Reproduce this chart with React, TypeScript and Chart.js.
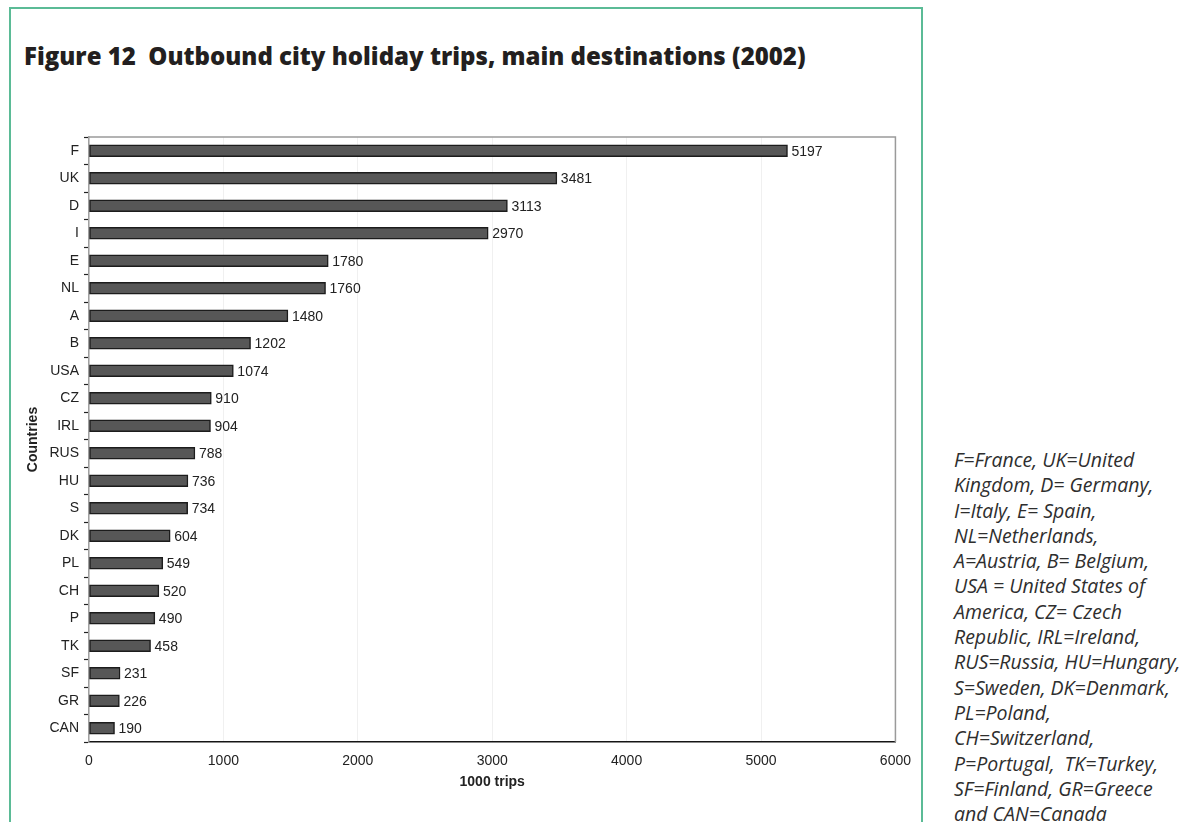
import React, { useEffect, useRef } from "react";
import { Chart, registerables } from "chart.js";

Chart.register(...registerables);

const countries = ["F", "UK", "D", "I", "E", "NL", "A", "B", "USA", "CZ", "IRL", "RUS", "HU", "S", "DK", "PL", "CH", "P", "TK", "SF", "GR", "CAN"];
const trips = [5197, 3481, 3113, 2970, 1780, 1760, 1480, 1202, 1074, 910, 904, 788, 736, 734, 604, 549, 520, 490, 458, 231, 226, 190];
const xTicks = [0, 1000, 2000, 3000, 4000, 5000, 6000];

const titleText = "Figure 12  Outbound city holiday trips, main destinations (2002)";
const yAxisTitle = "Countries";
const xAxisTitle = "1000 trips";
const noteLines = [
  "F=France, UK=United",
  "Kingdom, D= Germany,",
  "I=Italy, E= Spain,",
  "NL=Netherlands,",
  "A=Austria, B= Belgium,",
  "USA = United States of",
  "America, CZ= Czech",
  "Republic, IRL=Ireland,",
  "RUS=Russia, HU=Hungary,",
  "S=Sweden, DK=Denmark,",
  "PL=Poland,",
  "CH=Switzerland,",
  "P=Portugal,  TK=Turkey,",
  "SF=Finland, GR=Greece",
  "and CAN=Canada",
];

const FONT = "'Liberation Sans', Arial, Helvetica, sans-serif";

const valueLabels = {
  id: "valueLabels",
  afterDatasetsDraw(chart: any) {
    const ctx = chart.ctx;
    const meta = chart.getDatasetMeta(0);
    ctx.save();
    ctx.font = `14px ${FONT}`;
    ctx.fillStyle = "#222";
    ctx.textAlign = "left";
    ctx.textBaseline = "middle";
    meta.data.forEach((bar: any, i: number) => {
      ctx.fillText(String(trips[i]), bar.x + 4, bar.y + 1);
    });
    ctx.restore();
  },
};

const frame = {
  id: "frame",
  afterDraw(chart: any) {
    const { ctx, chartArea } = chart;
    ctx.save();
    ctx.strokeStyle = "#9a9a9a";
    ctx.lineWidth = 1.5;
    ctx.beginPath();
    ctx.moveTo(chartArea.left, chartArea.top);
    ctx.lineTo(chartArea.right, chartArea.top);
    ctx.lineTo(chartArea.right, chartArea.bottom);
    ctx.stroke();
    ctx.restore();
  },
};

function BarChart() {
  const ref = useRef<HTMLCanvasElement>(null);
  useEffect(() => {
    if (!ref.current) return;
    const chart = new Chart(ref.current, {
      type: "bar",
      data: {
        labels: countries,
        datasets: [
          {
            data: trips,
            backgroundColor: "#575757",
            borderColor: "#1c1c1c",
            borderWidth: 1.5,
            borderSkipped: false,
            barThickness: 12,
          },
        ],
      },
      options: {
        indexAxis: "y",
        animation: false,
        responsive: false,
        maintainAspectRatio: false,
        layout: { padding: { left: 0, top: 37, right: 26, bottom: 0 } },
        plugins: {
          legend: { display: false },
          tooltip: { enabled: false },
          title: { display: false },
        },
        scales: {
          x: {
            type: "linear",
            min: 0,
            max: 6000,
            afterBuildTicks(scale: any) {
              scale.ticks = xTicks.map((v) => ({ value: v }));
            },
            afterFit(scale: any) {
              scale.height = 80;
            },
            ticks: {
              color: "#222",
              font: { family: FONT, size: 14 },
              padding: 11,
              maxRotation: 0,
              callback: (v: any) => String(v),
            },
            grid: {
              color: "#f0f0f0",
              lineWidth: 1,
              drawTicks: false,
            },
            border: { display: true, color: "#151515", width: 1.5 },
            title: {
              display: true,
              text: xAxisTitle,
              color: "#222",
              font: { family: FONT, size: 14, weight: "bold" },
              padding: { top: 0, bottom: 31 },
            },
          },
          y: {
            type: "category",
            afterFit(scale: any) {
              scale.width = 89;
            },
            ticks: {
              color: "#222",
              font: { family: FONT, size: 14 },
              padding: 5,
            },
            grid: {
              offset: true,
              drawOnChartArea: false,
              drawTicks: true,
              tickLength: 5,
              tickColor: "#222",
              tickWidth: 1.2,
            },
            border: { display: true, color: "#a0a0a0", width: 1.5 },
            title: {
              display: true,
              text: yAxisTitle,
              color: "#222",
              font: { family: FONT, size: 14, weight: "bold" },
              padding: { top: 25, bottom: 0 },
            },
          },
        },
      },
      plugins: [valueLabels, frame],
    } as any);
    return () => chart.destroy();
  }, []);
  return (
    <canvas
      ref={ref}
      width={922}
      height={722}
      style={{ position: "absolute", left: 0, top: 100, width: 922, height: 722 }}
    />
  );
}

export default function App() {
  return (
    <div
      style={{
        position: "absolute",
        left: 0,
        top: 0,
        width: 1192,
        height: 822,
        overflow: "hidden",
        background: "#fff",
      }}
    >
      <div
        style={{
          position: "absolute",
          left: 9,
          top: 7,
          width: 914,
          height: 900,
          border: "2px solid #5bbb96",
          boxSizing: "border-box",
        }}
      />
      <div
        style={{
          position: "absolute",
          left: 24,
          top: 42,
          fontFamily: "'Open Sans', Lato, sans-serif",
          fontWeight: 800,
          fontSize: 24,
          lineHeight: "28px",
          color: "#231f20",
          whiteSpace: "pre",
        }}
      >
        {titleText}
      </div>
      <BarChart />
      <div
        style={{
          position: "absolute",
          left: 954,
          top: 447,
          fontFamily: "'Open Sans', Lato, sans-serif",
          fontStyle: "italic",
          fontSize: 19.5,
          lineHeight: "25.3px",
          color: "#2e2e2e",
          whiteSpace: "pre",
        }}
      >
        {noteLines.map((l, i) => (
          <div key={i}>{l}</div>
        ))}
      </div>
    </div>
  );
}
